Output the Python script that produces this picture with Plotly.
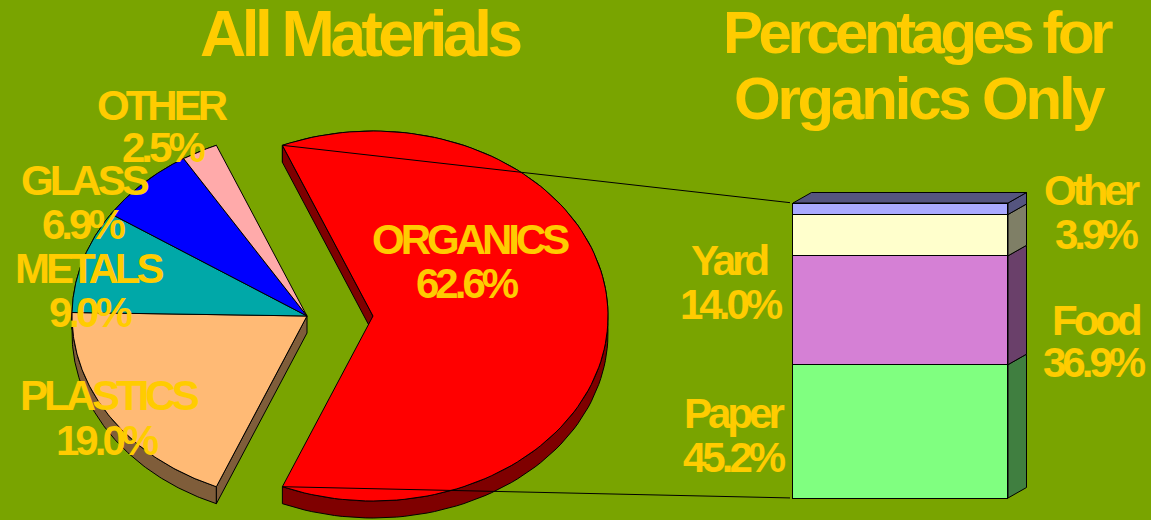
import numpy as np
import plotly.graph_objects as go

# ---------------- data ----------------
materials = ["ORGANICS", "PLASTICS", "METALS", "GLASS", "OTHER"]
material_pct = [62.6, 19.0, 9.0, 6.9, 2.5]
material_colors = ["#FF0000", "#FFBA75", "#00A8A8", "#0000FF", "#FFAAAA"]

organic_parts = ["Paper", "Food", "Yard", "Other"]
organic_pct = [45.2, 36.9, 14.0, 3.9]
organic_colors = ["#80FF80", "#D580D5", "#FFFFCC", "#AAAAFF"]

titles = ["All Materials", "Percentages for", "Organics Only"]

# ---------------- style / layout ----------------
W, H = 1151, 520
BG = "#79A400"
YELLOW = "#FFCC00"
FONT = "Liberation Sans, Arial, sans-serif"

CX, CY = 307, 316          # pie centre (pixels)
RX, RY = 235, 185          # pie radii
DEPTH = 17                 # pie thickness
EXPLODE = 66               # organics pull-out

BAR_LEFT, BAR_RIGHT = 793, 1008
BAR_BOTTOM, BAR_TOP = 498, 203
DX, DY = 18.5, 10.5        # 3-D depth of the bar
PAD = 3


def darker(hexcol, f=0.5):
    h = hexcol.lstrip("#")
    r, g, b = (int(h[i:i + 2], 16) for i in (0, 2, 4))
    return "#%02X%02X%02X" % (int(r * f), int(g * f), int(b * f))


def pt(cx, cy, ang):
    a = np.radians(ang)
    return cx + RX * np.sin(a), cy - RY * np.cos(a)


fig = go.Figure()

# ---------------- pie (elliptical 3-D) ----------------
total = sum(material_pct)
start = 90 - material_pct[0] / total * 360 / 2
slices = []
acc = start
for i, (name, v, col) in enumerate(zip(materials, material_pct, material_colors)):
    a0 = acc
    a1 = acc + v / total * 360
    acc = a1
    mid = (a0 + a1) / 2
    exploded = (i == 0)
    if exploded:
        cx = CX + EXPLODE * np.sin(np.radians(mid))
        cy = CY - EXPLODE * np.cos(np.radians(mid))
    else:
        cx, cy = CX, CY
    slices.append(dict(name=name, v=v, col=col, a0=a0, a1=a1, cx=cx, cy=cy, exploded=exploded))

line_style = dict(color="black", width=1)
n = len(slices)

# outer rim walls
for s in slices:
    angs = np.linspace(s["a0"], s["a1"], 120)
    ax, ay = pt(s["cx"], s["cy"], angs)
    xs = list(ax) + list(ax[::-1]) + [ax[0]]
    ys = list(ay) + list(ay[::-1] + DEPTH) + [ay[0]]
    fig.add_trace(go.Scatter(x=xs, y=ys, mode="lines", fill="toself", fillcolor=darker(s["col"]),
                             line=line_style, hoverinfo="skip", showlegend=False))

# radial cut walls (only the ones facing the viewer at an exposed cut)
for i, s in enumerate(slices):
    prev_s, next_s = slices[(i - 1) % n], slices[(i + 1) % n]
    for a, neighbour, visible in ((s["a0"], prev_s, np.sin(np.radians(s["a0"])) < 0),
                                  (s["a1"], next_s, np.sin(np.radians(s["a1"])) > 0)):
        exposed = s["exploded"] or neighbour["exploded"]
        if not (visible and exposed):
            continue
        cx, cy = s["cx"], s["cy"]
        px, py = pt(cx, cy, a)
        fig.add_trace(go.Scatter(x=[cx, px, px, cx, cx], y=[cy, py, py + DEPTH, cy + DEPTH, cy],
                                 mode="lines", fill="toself", fillcolor=darker(s["col"]),
                                 line=line_style, hoverinfo="skip", showlegend=False))

# top faces
for s in slices:
    angs = np.linspace(s["a0"], s["a1"], 120)
    ax, ay = pt(s["cx"], s["cy"], angs)
    xs = [s["cx"]] + list(ax) + [s["cx"]]
    ys = [s["cy"]] + list(ay) + [s["cy"]]
    fig.add_trace(go.Scatter(x=xs, y=ys, mode="lines", fill="toself", fillcolor=s["col"],
                             line=line_style, name=s["name"], text=f"{s['name']} {s['v']:.1f}%",
                             hoverinfo="text", hoveron="fills", showlegend=False))

# connector lines from organics slice to bar
org = slices[0]
tx, ty = pt(org["cx"], org["cy"], org["a0"])
bx, by = pt(org["cx"], org["cy"], org["a1"])
for (sx, sy), ey in (((tx, ty), BAR_TOP), ((bx, by), BAR_BOTTOM)):
    fig.add_trace(go.Scatter(x=[sx, BAR_LEFT], y=[sy, ey], mode="lines",
                             line=dict(color="black", width=1), hoverinfo="skip",
                             showlegend=False))

# ---------------- 3-D stacked bar ----------------
ux = 1.0 / (BAR_RIGHT - BAR_LEFT)
uy = 100.0 / (BAR_BOTTOM - BAR_TOP)
dxu, dyu = DX * ux, DY * uy

base = 0.0
for name, v, col in zip(organic_parts, organic_pct, organic_colors):
    fig.add_trace(go.Bar(x=[0.5], y=[v], width=1, marker=dict(color=col, line=dict(color="black", width=1)),
                         name=name, xaxis="x2", yaxis="y2", showlegend=False,
                         hovertemplate=f"{name}: {v:.1f}%<extra></extra>"))
    b0, b1 = base, base + v
    fig.add_trace(go.Scatter(x=[1, 1 + dxu, 1 + dxu, 1, 1], y=[b0, b0 + dyu, b1 + dyu, b1, b0],
                             mode="lines", fill="toself", fillcolor=darker(col),
                             line=line_style, xaxis="x2", yaxis="y2",
                             hoverinfo="skip", showlegend=False))
    base = b1
top_col = darker(organic_colors[-1])
fig.add_trace(go.Scatter(x=[0, dxu, 1 + dxu, 1, 0], y=[base, base + dyu, base + dyu, base, base],
                         mode="lines", fill="toself", fillcolor=top_col, line=line_style,
                         xaxis="x2", yaxis="y2", hoverinfo="skip", showlegend=False))

# ---------------- text ----------------
annotations = []


def label(text, x, baseline, size, ls):
    annotations.append(dict(
        text=f"<span style='letter-spacing:{ls}px'>{text}</span>",
        x=x, y=baseline - 0.35 * size, xref="x", yref="y",
        xanchor="center", yanchor="middle", showarrow=False,
        font=dict(family=FONT, size=size, color=YELLOW, weight="bold")))


LBL = 42
LS = -4
pie_label_pos = {
    "ORGANICS": ((470, 254), (467, 298)),
    "PLASTICS": ((109, 410), (107, 455)),
    "METALS": ((89, 283), (90, 327)),
    "GLASS": ((85, 195), (83, 239)),
    "OTHER": ((162, 120), (163, 162)),
}
for name, v in zip(materials, material_pct):
    (x1, y1), (x2, y2) = pie_label_pos[name]
    label(name, x1, y1, LBL, LS)
    label(f"{v:.1f}%", x2, y2, LBL, LS)

bar_label_pos = {
    "Paper": ((734, 428), (734, 472)),
    "Food": ((1096, 335), (1094, 377)),
    "Yard": ((729, 275), (731, 319)),
    "Other": ((1092, 205), (1096, 249)),
}
for name, v in zip(organic_parts, organic_pct):
    (x1, y1), (x2, y2) = bar_label_pos[name]
    label(name, x1, y1, LBL, LS)
    label(f"{v:.1f}%", x2, y2, LBL, LS)

label(titles[0], 360, 56, 64, -4.5)
label(titles[1], 918, 53, 60, -4.5)
label(titles[2], 920, 119, 60, -3.2)

# ---------------- layout ----------------
ax_off = dict(visible=False, showgrid=False, zeroline=False, fixedrange=True)
fig.update_layout(
    width=W, height=H,
    margin=dict(l=0, r=0, t=0, b=0),
    paper_bgcolor=BG, plot_bgcolor=BG,
    barmode="stack", bargap=0,
    showlegend=False,
    xaxis=dict(range=[0, W], domain=[0, 1], **ax_off),
    yaxis=dict(range=[H, 0], domain=[0, 1], **ax_off),
    xaxis2=dict(range=[-PAD * ux, (BAR_RIGHT + DX + PAD - BAR_LEFT) * ux],
                domain=[(BAR_LEFT - PAD) / W, (BAR_RIGHT + DX + PAD) / W],
                anchor="y2", **ax_off),
    yaxis2=dict(range=[-PAD * uy, (BAR_BOTTOM - BAR_TOP + DY + PAD) * uy],
                domain=[(H - BAR_BOTTOM - PAD) / H, (H - BAR_TOP + DY + PAD) / H],
                anchor="x2", **ax_off),
    annotations=annotations,
)

fig.write_html("out.html",
               config={"displayModeBar": False},
               post_script="document.body.style.margin='0';document.body.style.overflow='hidden';")
